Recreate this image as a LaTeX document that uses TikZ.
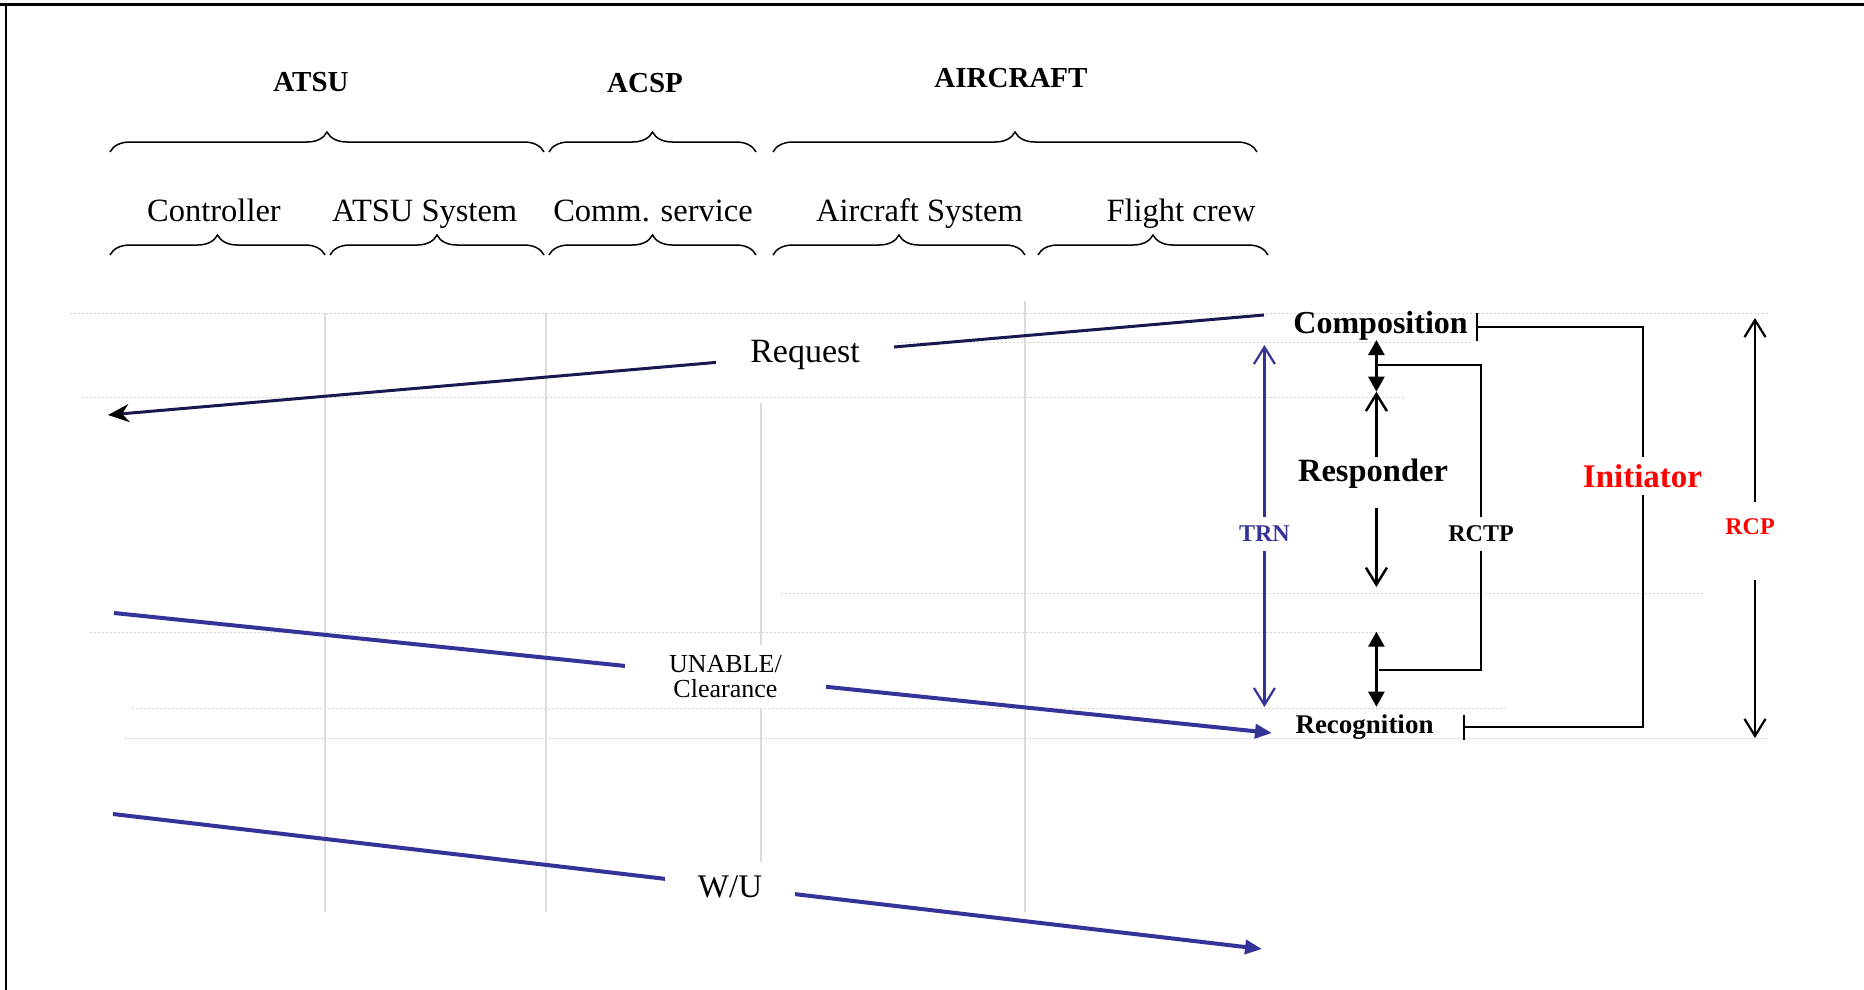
\documentclass[tikz,border=0pt]{standalone}
\usepackage{fontspec}
\setmainfont{Liberation Serif}
\usepackage{tikz}
\usetikzlibrary{positioning, arrows.meta, decorations.pathreplacing}

\definecolor{msgblue}{RGB}{51,51,153}
\definecolor{reqnavy}{RGB}{25,25,80}
\definecolor{lifegray}{RGB}{220,220,220}
\definecolor{guidegray}{RGB}{212,212,212}

\tikzset{
  lifeline/.style={draw=lifegray, line width=1.5pt},
  guide/.style={draw=guidegray, line width=1pt, dash pattern=on 2pt off 2pt},
  grp/.style={anchor=base, font=\bfseries\fontsize{29}{32}\selectfont},
  part/.style={anchor=base, font=\fontsize{32.5}{36}\selectfont},
  curly/.style={decorate, decoration={brace, amplitude=20pt}, line width=1.5pt},
  msg/.style={draw=msgblue, line width=4pt, -{Triangle[length=17pt,width=14pt]}},
  msglabel/.style={fill=white, inner ysep=4pt, align=center},
  phase/.style={anchor=base, font=\bfseries\fontsize{32}{36}\selectfont},
  tag/.style={font=\bfseries\fontsize{24}{28}\selectfont, inner sep=0pt, minimum height=34pt},
  bracket/.style={line width=2pt},
  resp/.style={line width=2.5pt},
  filled/.style={{Triangle[length=15pt,width=16pt]}-{Triangle[length=15pt,width=16pt]}},
  openhead/.style={-{Straight Barb[length=17pt,width=21pt]}}
}

\begin{document}
\begin{tikzpicture}[x=1pt, y=-1pt]
\useasboundingbox (0,0) rectangle (1864,990);

% frame
\draw[line width=2.3pt] (0,4.5) -- (1864,4.5);
\draw[line width=2pt] (6.3,4.5) -- (6.3,990);

% faint guides
\draw[guide] (70,313) -- (1768,313);
\draw[guide] (897,342) -- (1472,342);
\draw[guide] (82,397) -- (1404,397);
\draw[guide] (781,593) -- (1703,593);
\draw[guide] (90,632) -- (1386,632);
\draw[guide] (132,708) -- (1505,708);
\draw[guide] (125,738) -- (1768,738);

% lifelines
\draw[lifeline] (325,313) -- (325,912);
\draw[lifeline] (546,313) -- (546,912);
\draw[lifeline] (761,403) -- (761,912);
\draw[lifeline] (1025,301) -- (1025,912);

% groups
\node[grp] (atsu) at (311,91.7) {ATSU};
\node[grp] (acsp) at (645,92.7) {ACSP};
\node[grp] (aircraft) at (1011,87.3) {AIRCRAFT};

\draw[curly] (110,152) -- (544,152);
\draw[curly] (549,152) -- (756,152);
\draw[curly] (773,152) -- (1257,152);

% parts
\node[part] (ctrl) at (214,221) {Controller};
\node[part] (atsusys) at (424.7,221) {ATSU System};
\node[part] (comm) at (653,221) {Comm. service};
\node[part] (acsys) at (919.5,221) {Aircraft System};
\node[part] (crew) at (1181,221) {Flight crew};

\draw[curly] (110,255) -- (325,255);
\draw[curly] (330,255) -- (544,255);
\draw[curly] (549,255) -- (756,255);
\draw[curly] (773,255) -- (1025,255);
\draw[curly] (1038,255) -- (1268,255);

% messages
\coordinate (reqS) at (1264,315);
\coordinate (reqE) at (108,415);
\coordinate (unS) at (114,613);
\coordinate (unE) at (1272,733);
\coordinate (wuS) at (113,814);
\coordinate (wuE) at (1262,949);

\draw[draw=reqnavy, line width=3pt, -{Stealth[length=21pt,width=18pt,black]}] (reqS) -- node[msglabel, pos=0.397, inner xsep=34pt, font=\fontsize{34}{38}\selectfont] (req) {Request} (reqE);
\draw[msg] (unS) -- node[msglabel, pos=0.528, inner xsep=44pt, inner ysep=10pt, font=\fontsize{26}{25}\selectfont] (unable) {UNABLE/\\Clearance} (unE);
\draw[msg] (wuS) -- node[msglabel, pos=0.537, inner xsep=33pt, minimum height=50pt, font=\fontsize{33}{36}\selectfont] (wu) {W/U} (wuE);

% phases
\node[phase] (comp) at (1380.6,333) {Composition};
\node[phase, font=\bfseries\fontsize{27}{30}\selectfont] (recog) at (1364.5,733) {Recognition};
\node[phase, font=\bfseries\fontsize{32.5}{36}\selectfont] (responder) at (1373,481.7) {Responder};

% TRN
\node[tag, text=msgblue] (trn) at (1264.4,534) {TRN};
\coordinate (trnTop) at (1264.4,345);
\coordinate (trnBot) at (1264.4,707);
\draw[draw=msgblue, line width=2.2pt, openhead] (trn.north) -- (trnTop);
\draw[draw=msgblue, line width=2.2pt, openhead] (trn.south) -- (trnBot);

% responder arrows
\coordinate (r1) at (1376.4,340);
\coordinate (r2) at (1376.4,391.7);
\coordinate (r3) at (1376.4,456.7);
\coordinate (r4) at (1376.4,508);
\coordinate (r5) at (1376.4,587);
\coordinate (r6) at (1376.4,631.7);
\coordinate (r7) at (1376.4,706.7);
\draw[resp, filled] (r1) -- (r2);
\draw[resp, openhead] (r3) -- (r2);
\draw[resp, openhead] (r4) -- (r5);
\draw[resp, filled] (r6) -- (r7);

% RCTP
\node[tag] (rctp) at (1481,534) {RCTP};
\draw[bracket] (rctp.north) |- (1378,365);
\draw[bracket] (rctp.south) |- (1379,670);

% Initiator
\node[fill=white, text=red, inner sep=0pt, minimum height=38pt,
      font=\bfseries\fontsize{33}{36}\selectfont] (init) at (1642.5,476) {Initiator};
\draw[bracket, {Bar[width=28pt]}-] (1476,327) -| (init.north);
\draw[bracket, {Bar[width=25pt]}-] (1463,727) -| (init.south);

% RCP
\node[tag, text=red] (rcp) at (1750,527) {RCP};
\coordinate (rcpA) at (1755,502);
\coordinate (rcpB) at (1755,580);
\coordinate (rcpTop) at (1755,318);
\coordinate (rcpBot) at (1755,738);
\draw[line width=2.2pt, openhead] (rcpA) -- (rcpTop);
\draw[line width=2.2pt, openhead] (rcpB) -- (rcpBot);
\end{tikzpicture}
\end{document}
